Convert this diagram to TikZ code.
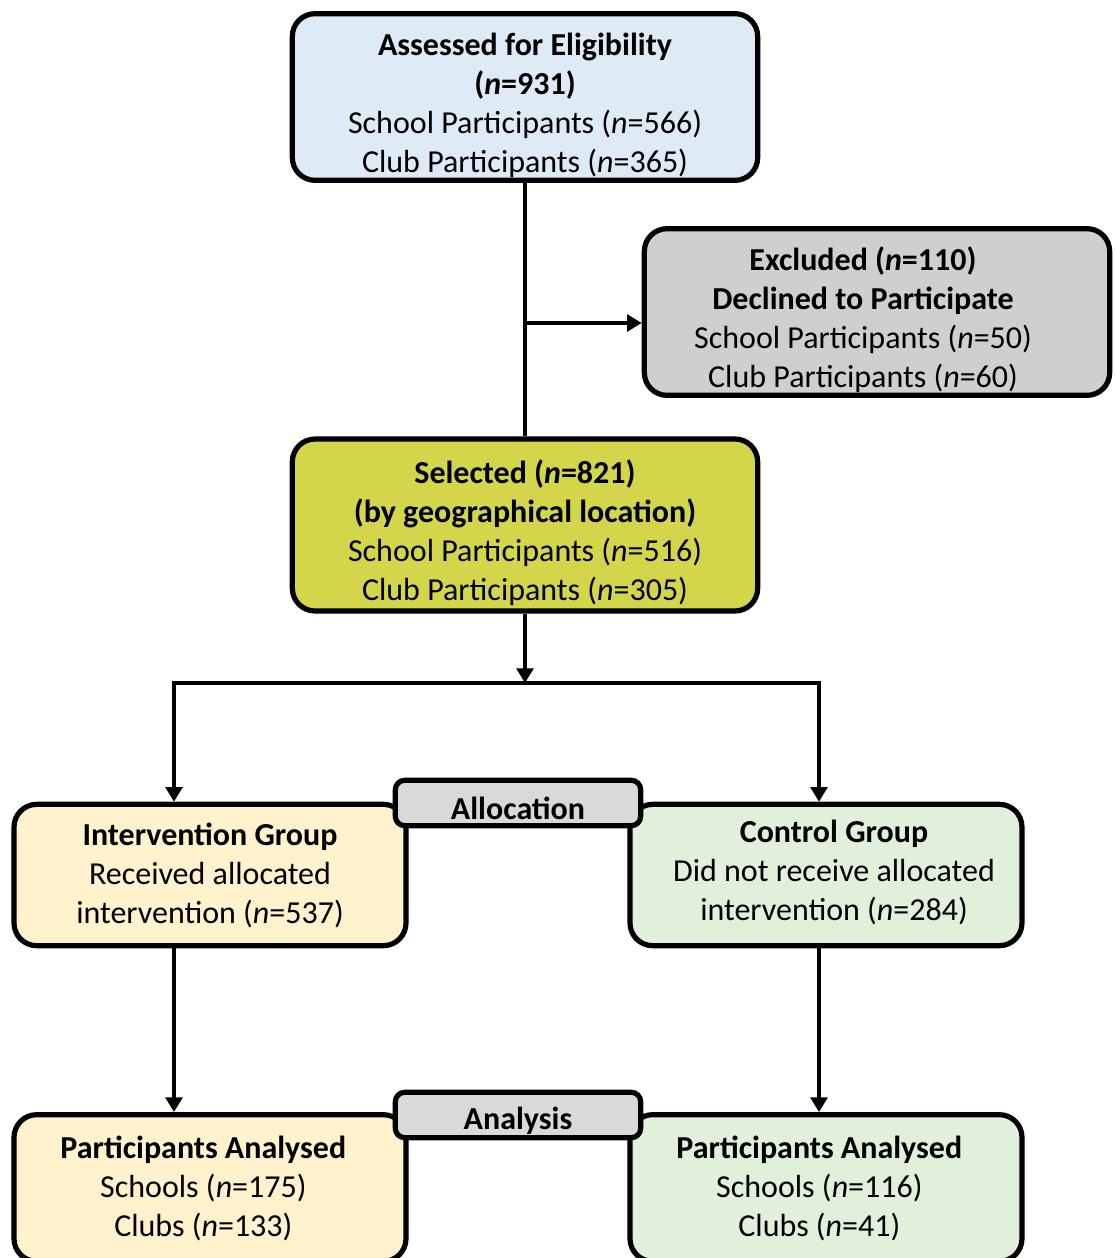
\documentclass[tikz,border=0pt]{standalone}
\usepackage{fontspec}
\setmainfont{Carlito}
\usetikzlibrary{arrows.meta}
\definecolor{assessBlue}{HTML}{DEEBF7}
\definecolor{excludeGrey}{HTML}{D0CECE}
\definecolor{selectYellow}{HTML}{D3D64B}
\definecolor{interYellow}{HTML}{FFF2CC}
\definecolor{controlGreen}{HTML}{E2EFDA}
\definecolor{stageGrey}{HTML}{D9D9D9}
% extra room above the first line of the tall boxes
\newcommand{\topgap}{\rule{0pt}{30pt}}
\tikzset{
  flowtext/.style={align=center, inner sep=0pt, font=\fontsize{24}{29.25}\selectfont},
  flowbox/.style={flowtext, draw, line width=3.9pt, rounded corners=17pt},
  bigbox/.style={flowbox, minimum width=349pt, minimum height=125pt},
  groupbox/.style={flowbox, minimum width=294pt, minimum height=106pt},
  stagebox/.style={flowbox, rounded corners=7pt, minimum width=184pt, minimum height=34pt,
    fill=stageGrey, text height=25pt, font=\fontsize{24}{29.25}\selectfont\bfseries},
  flowline/.style={line width=3.7pt},
  flowarrow/.style={flowline, -{Triangle[length=11pt,width=12.5pt]}}
}
\begin{document}
\begin{tikzpicture}[x=0.75pt,y=-0.75pt]
\useasboundingbox (0,0) rectangle (1115,1258);
% Top of the flow
\node[bigbox, fill=assessBlue] (assess) at (525,97)
  {\topgap\textbf{Assessed for Eligibility}\\ \textbf{(\textit{n}=931)}\\
   School Participants (\textit{n}=566)\\ Club Participants (\textit{n}=365)};
\node[bigbox, fill=excludeGrey] (excluded) at (877,312) {};
\node[flowtext] (excludedTxt) at ([xshift=-10.5pt]excluded.center)
  {\topgap\textbf{Excluded (\textit{n}=110)}\\ \textbf{Declined to Participate}\\
   School Participants (\textit{n}=50)\\ Club Participants (\textit{n}=60)};
\node[bigbox, fill=selectYellow, minimum height=129pt] (selected) at (525,525)
  {\topgap\textbf{Selected (\textit{n}=821)}\\ \textbf{(by geographical location)}\\
   School Participants (\textit{n}=516)\\ Club Participants (\textit{n}=305)};
% Groups
\node[groupbox, fill=interYellow] (inter) at (210,875)
  {\textbf{Intervention Group}\\ Received allocated\\ intervention (\textit{n}=537)};
\node[groupbox, fill=controlGreen] (control) at (826,875) {};
\node[flowtext] (controlTxt) at ([xshift=6pt,yshift=2pt]control.center)
  {\textbf{Control Group}\\ Did not receive allocated\\ intervention (\textit{n}=284)};
\node[groupbox, fill=interYellow, minimum height=110pt] (analysedI) at (210,1188) {};
\node[flowtext] (analysedITxt) at ([xshift=-5pt]analysedI.center)
  {\textbf{Participants Analysed}\\ Schools (\textit{n}=175)\\ Clubs (\textit{n}=133)};
\node[groupbox, fill=controlGreen, minimum height=110pt] (analysedC) at (826,1188) {};
\node[flowtext] (analysedCTxt) at ([xshift=-5pt]analysedC.center)
  {\textbf{Participants Analysed}\\ Schools (\textit{n}=116)\\ Clubs (\textit{n}=41)};
% Stage labels sit over the group boxes
\node[stagebox] (allocation) at (518,803) {Allocation};
\node[stagebox] (analysis) at (518,1115) {Analysis};
% Connectors
\coordinate (branch) at (525,323);
\coordinate (split) at (525,683);
\coordinate (splitL) at (174,683);
\coordinate (splitR) at (819,683);
\draw[flowline] (assess) -- (selected);
\draw[flowarrow] (branch) -- (branch -| excluded.west);
\draw[flowarrow] (selected) -- (split);
\draw[flowline, {Triangle[length=11pt,width=12.5pt]}-{Triangle[length=11pt,width=12.5pt]}]
  (splitL |- inter.north) -- (splitL) -- (splitR) -- (splitR |- control.north);
\draw[flowarrow] (splitL |- inter.south) -- (splitL |- analysedI.north);
\draw[flowarrow] (splitR |- control.south) -- (splitR |- analysedC.north);
\end{tikzpicture}
\end{document}
